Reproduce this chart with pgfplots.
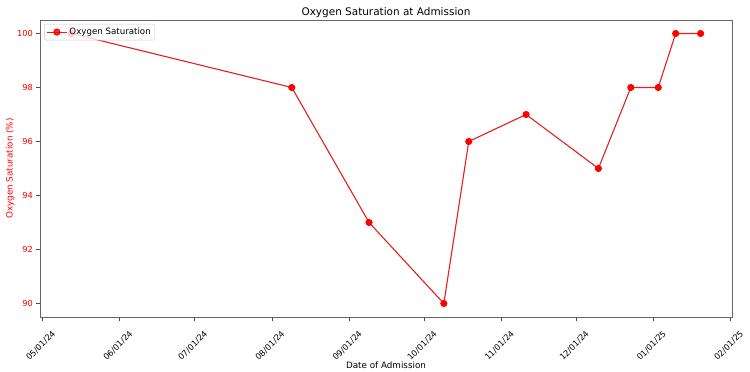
\documentclass[border=0pt]{standalone}
\usepackage{fontspec}
\setmainfont{DejaVu Sans}
\usepackage{pgfplots}
\pgfplotsset{compat=1.18}
\definecolor{mplred}{RGB}{230,30,30}
\begin{document}
\begin{tikzpicture}
\useasboundingbox (-40bp,-55bp) rectangle (710bp,317bp);
\begin{axis}[
  at={(0,0)}, anchor=south west,
  scale only axis, width=692bp, height=297bp,
  xmin=-1, xmax=276.6, ymin=89.5, ymax=100.5,
  xtick={0,31,61,92,123,153,184,214,245,276},
  xticklabels={05/01/24,06/01/24,07/01/24,08/01/24,09/01/24,10/01/24,11/01/24,12/01/24,01/01/25,02/01/25},
  ytick={90,92,94,96,98,100},
  x tick label style={xshift=9bp, yshift=-8bp, rotate=45, anchor=north east, font=\fontsize{8.3}{9}\selectfont, inner sep=1pt},
  y tick label style={text=red, font=\fontsize{8.3}{9}\selectfont},
  /pgf/number format/assume math mode=true,
  tick align=outside, tick pos=left,
  major tick length=3.5bp,
  tick style={black!70, line width=0.6pt},
  axis line style={black!60, line width=0.7pt},
  title={Oxygen Saturation at Admission},
  title style={font=\fontsize{10.5}{12}\selectfont, yshift=-7bp},
  xlabel={Date of Admission},
  xlabel style={font=\fontsize{8.8}{10}\selectfont, yshift=4bp},
  ylabel={Oxygen Saturation (\%)},
  ylabel style={text=red, font=\fontsize{8.8}{10}\selectfont, yshift=-4bp},
  legend style={font=\fontsize{8.7}{10}\selectfont, draw=black!20, rounded corners=2pt, fill=white, fill opacity=0.8, text opacity=1, at={(0.006,0.987)}, anchor=north west, inner sep=2pt},
  legend cell align=left,
  legend image code/.code={\draw[mark repeat=2,mark phase=2,#1] plot coordinates {(0bp,0bp) (10bp,0bp) (20bp,0bp)};},
]
\addplot[color=mplred, line width=1.1pt, mark=*, mark size=3bp, mark options={fill=red, draw=red}]
  coordinates {
  (11.6,100) (100,98) (131,93) (161,90) (171,96) (194,97) (223,95) (236,98) (247,98) (254,100) (264,100)
  };
\addlegendentry{Oxygen Saturation}
\end{axis}
\end{tikzpicture}
\end{document}
